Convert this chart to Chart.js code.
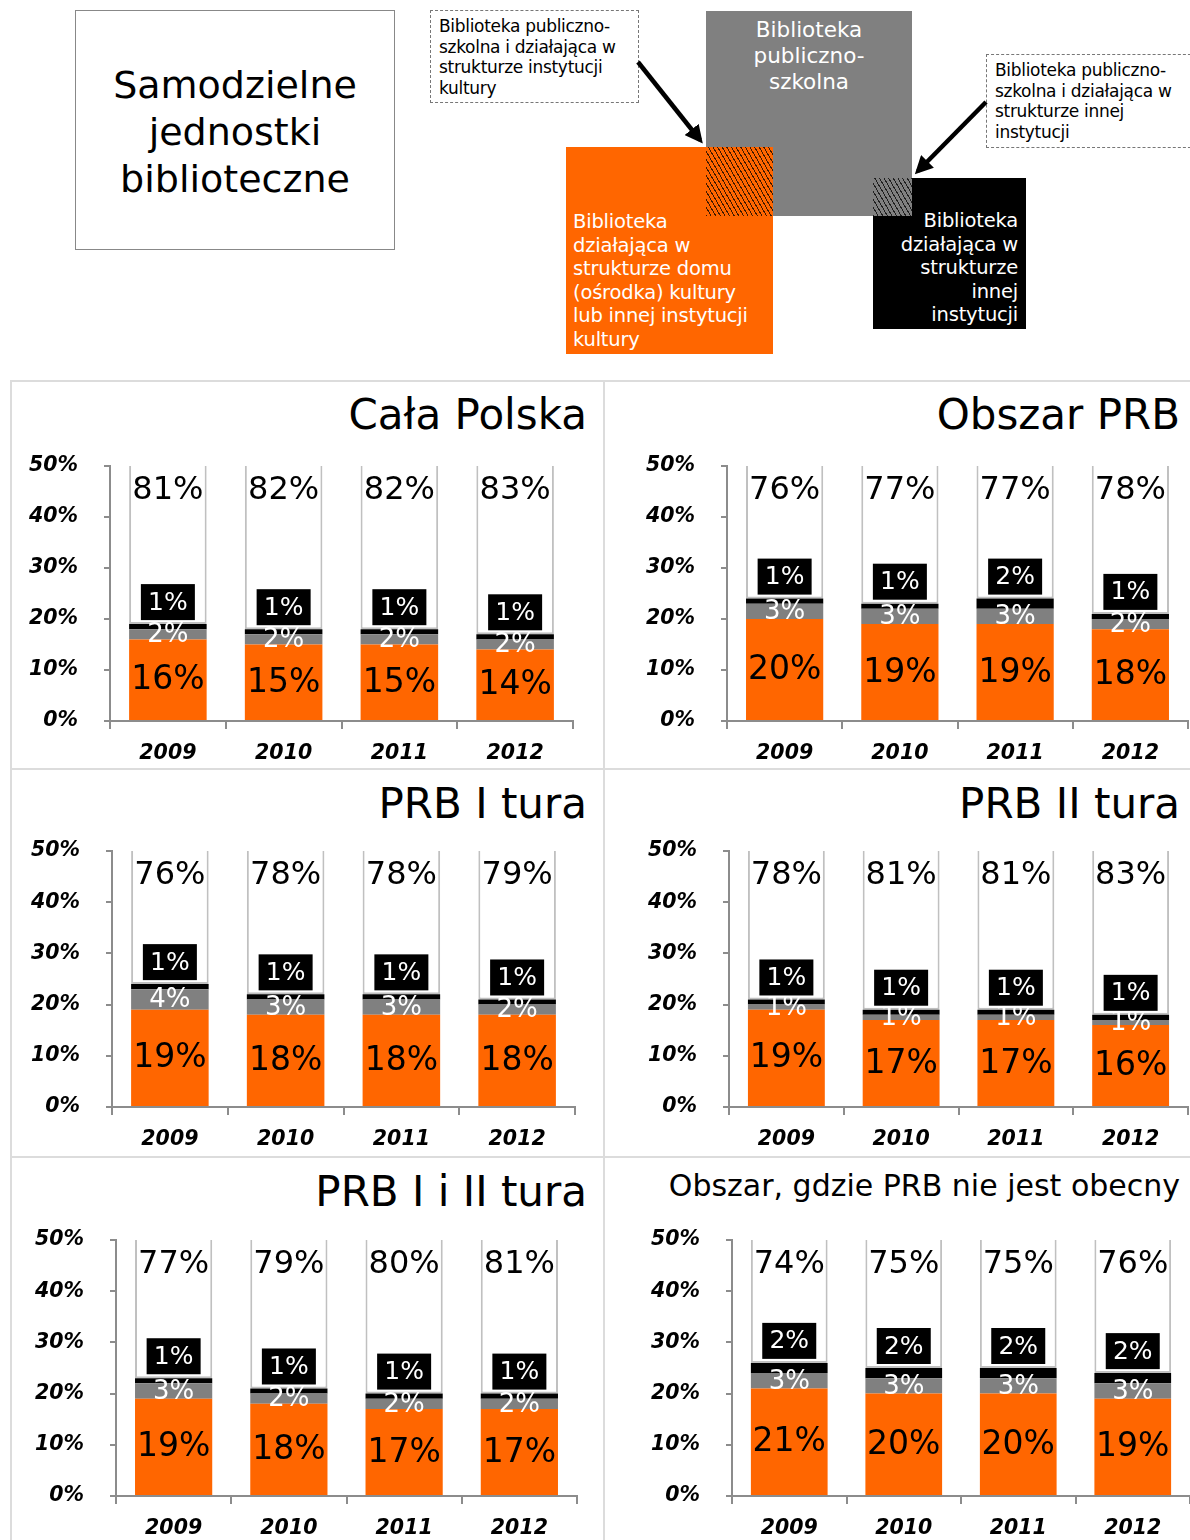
<!DOCTYPE html>
<html>
<head>
<meta charset="utf-8">
<script src="https://cdn.jsdelivr.net/npm/chart.js@4/dist/chart.umd.min.js"></script>
<style>
  body { margin: 0; width: 1190px; height: 1540px; position: relative; background: #fff; overflow: hidden;
         font-family: 'DejaVu Sans', Verdana, sans-serif; color: #000; }
  .abs { position: absolute; }
  .panel { position: absolute; border-left: 2px solid #dcdcdc; border-top: 2px solid #dcdcdc; box-sizing: border-box; }
  .ptitle { position: absolute; white-space: nowrap; text-align: right; }
  .callout { position: absolute; border: 1px dashed #777; box-sizing: border-box; font-size: 17px; line-height: 20.5px; padding: 5px 0 0 8px; letter-spacing: -0.3px; }
  .hatch { position: absolute; background-image: repeating-linear-gradient(60deg, rgba(0,0,0,0.75) 0 1px, transparent 1px 4px); }
  canvas { position: absolute; }
</style>
</head>
<body>

<!-- schemat u góry -->
<div class="abs" style="left:75px;top:10px;width:320px;height:240px;border:1px solid #888;box-sizing:border-box;
     display:flex;align-items:center;justify-content:center;text-align:center;font-size:38px;line-height:47px;padding-top:4px;">
  Samodzielne<br>jednostki<br>biblioteczne
</div>

<div class="abs" style="left:706px;top:11px;width:206px;height:205px;background:#808080;color:#fff;text-align:center;
     font-size:21.5px;line-height:26px;padding-top:6px;box-sizing:border-box;">Biblioteka<br>publiczno-<br>szkolna</div>

<div class="abs" style="left:566px;top:147px;width:207px;height:207px;background:#ff6600;color:#fff;
     font-size:19.5px;line-height:23.5px;padding:63px 0 0 7px;box-sizing:border-box;letter-spacing:-0.2px;">
  Biblioteka<br>działająca w<br>strukturze domu<br>(ośrodka) kultury<br>lub innej instytucji<br>kultury</div>
<div class="hatch" style="left:706px;top:147px;width:67px;height:69px;"></div>

<div class="abs" style="left:873px;top:178px;width:153px;height:151px;background:#000;color:#fff;text-align:right;
     font-size:19.5px;line-height:23.5px;padding:31px 8px 0 0;box-sizing:border-box;letter-spacing:-0.2px;">
  Biblioteka<br>działająca w<br>strukturze<br>innej<br>instytucji</div>
<div class="hatch" style="left:873px;top:178px;width:39px;height:38px;background-color:#808080;"></div>

<div class="callout" style="left:430px;top:10px;width:209px;height:93px;">Biblioteka publiczno-<br>szkolna i działająca w<br>strukturze instytucji<br>kultury</div>
<div class="callout" style="left:986px;top:54px;width:210px;height:94px;">Biblioteka publiczno-<br>szkolna i działająca w<br>strukturze innej<br>instytucji</div>

<svg class="abs" style="left:0;top:0" width="1190" height="370">
  <defs>
    <marker id="head" markerWidth="4" markerHeight="4" refX="3" refY="2" orient="auto">
      <path d="M0,0 L4,2 L0,4 z" fill="#000"/>
    </marker>
  </defs>
  <line x1="638" y1="62" x2="700" y2="140" stroke="#000" stroke-width="4.5" marker-end="url(#head)"/>
  <line x1="986" y1="102" x2="918" y2="171" stroke="#000" stroke-width="4.5" marker-end="url(#head)"/>
</svg>

<div id="panels"></div>

<script>
const years = ['2009', '2010', '2011', '2012'];

const panelTitles = ['Cała Polska', 'Obszar PRB', 'PRB I tura', 'PRB II tura', 'PRB I i II tura',
                     'Obszar, gdzie PRB nie jest obecny'];

// one row per panel, in the order of panelTitles
const domKulturyShare = [
  [16, 15, 15, 14],
  [20, 19, 19, 18],
  [19, 18, 18, 18],
  [19, 17, 17, 16],
  [19, 18, 17, 17],
  [21, 20, 20, 19]
];
const publSzkolnaKulturaShare = [
  [2, 2, 2, 2],
  [3, 3, 3, 2],
  [4, 3, 3, 2],
  [1, 1, 1, 1],
  [3, 2, 2, 2],
  [3, 3, 3, 3]
];
const innaInstytucjaShare = [
  [1, 1, 1, 1],
  [1, 1, 2, 1],
  [1, 1, 1, 1],
  [1, 1, 1, 1],
  [1, 1, 1, 1],
  [2, 2, 2, 2]
];
const samodzielneShare = [
  [81, 82, 82, 83],
  [76, 77, 77, 78],
  [76, 78, 78, 79],
  [78, 81, 81, 83],
  [77, 79, 80, 81],
  [74, 75, 75, 76]
];

const yMax = 50;
const yStep = 10;

// where each panel sits on the page (positions only)
const boxes = [
  { left: 10,  top: 380,  width: 593, height: 388, plotLeft: 100, plotRight: 563, plotTop: 86, plotBottom: 341, titleRight: 587,  titleY: 415,  titleSize: 42 },
  { left: 603, top: 380,  width: 587, height: 388, plotLeft: 124, plotRight: 585, plotTop: 86, plotBottom: 341, titleRight: 1180, titleY: 415,  titleSize: 42 },
  { left: 10,  top: 768,  width: 593, height: 388, plotLeft: 102, plotRight: 565, plotTop: 83, plotBottom: 339, titleRight: 587,  titleY: 804,  titleSize: 42 },
  { left: 603, top: 768,  width: 587, height: 388, plotLeft: 126, plotRight: 585, plotTop: 83, plotBottom: 339, titleRight: 1180, titleY: 804,  titleSize: 42 },
  { left: 10,  top: 1156, width: 593, height: 384, plotLeft: 106, plotRight: 567, plotTop: 84, plotBottom: 340, titleRight: 587,  titleY: 1192, titleSize: 42 },
  { left: 603, top: 1156, width: 587, height: 384, plotLeft: 129, plotRight: 587, plotTop: 84, plotBottom: 340, titleRight: 1180, titleY: 1186, titleSize: 30 }
];

const FONT = "'DejaVu Sans', Verdana, sans-serif";

// percent labels inside / above the segments
const segmentLabels = {
  id: 'segmentLabels',
  afterDatasetsDraw(chart) {
    const ctx = chart.ctx;
    const area = chart.chartArea;
    ctx.save();
    ctx.textAlign = 'center';
    ctx.textBaseline = 'middle';
    chart.data.datasets.forEach((ds, di) => {
      chart.getDatasetMeta(di).data.forEach((bar, i) => {
        const txt = ds.data[i] + '%';
        const p = bar.getProps(['x', 'y', 'base'], true);
        if (di === 0) {
          ctx.font = '33px ' + FONT;
          ctx.fillStyle = '#000';
          ctx.fillText(txt, p.x, (p.y + p.base) / 2 + 1);
        } else if (di === 1) {
          ctx.font = '26px ' + FONT;
          ctx.fillStyle = '#fff';
          ctx.fillText(txt, p.x, (p.y + p.base) / 2 + 1);
        } else if (di === 2) {
          const bw = 54, bh = 36;
          const top = p.y - 4 - bh;
          ctx.fillStyle = '#000';
          ctx.fillRect(p.x - bw / 2, top, bw, bh);
          ctx.font = '25px ' + FONT;
          ctx.fillStyle = '#fff';
          ctx.fillText(txt, p.x, top + bh / 2 + 1);
        } else {
          ctx.font = '32px ' + FONT;
          ctx.fillStyle = '#000';
          ctx.fillText(txt, p.x, area.top + 25);
        }
      });
    });
    ctx.restore();
  }
};

const holder = document.getElementById('panels');

boxes.forEach((b, k) => {
  const panel = document.createElement('div');
  panel.className = 'panel';
  panel.style.left = b.left + 'px';
  panel.style.top = b.top + 'px';
  panel.style.width = b.width + 'px';
  panel.style.height = b.height + 'px';
  holder.appendChild(panel);

  const title = document.createElement('div');
  title.className = 'ptitle';
  title.textContent = panelTitles[k];
  title.style.fontSize = b.titleSize + 'px';
  title.style.lineHeight = Math.round(b.titleSize * 1.2) + 'px';
  title.style.right = (1190 - b.titleRight) + 'px';
  title.style.top = (b.titleY - Math.round(b.titleSize * 0.6)) + 'px';
  holder.appendChild(title);

  const canvas = document.createElement('canvas');
  canvas.width = b.width;
  canvas.height = b.height;
  canvas.style.left = b.left + 'px';
  canvas.style.top = b.top + 'px';
  holder.appendChild(canvas);

  new Chart(canvas.getContext('2d'), {
    type: 'bar',
    data: {
      labels: years,
      datasets: [
        {
          label: 'Biblioteka działająca w strukturze domu (ośrodka) kultury',
          data: domKulturyShare[k],
          backgroundColor: '#ff6600',
          borderWidth: 0
        },
        {
          label: 'Biblioteka publiczno-szkolna i działająca w strukturze instytucji kultury',
          data: publSzkolnaKulturaShare[k],
          backgroundColor: '#808080',
          borderWidth: 0
        },
        {
          label: 'Biblioteka działająca w strukturze innej instytucji',
          data: innaInstytucjaShare[k],
          backgroundColor: '#000000',
          borderWidth: 0
        },
        {
          label: 'Samodzielne jednostki biblioteczne',
          data: samodzielneShare[k],
          backgroundColor: '#ffffff',
          borderColor: '#c0c0c0',
          borderWidth: { left: 2, right: 2, bottom: 2, top: 0 },
          borderSkipped: false
        }
      ]
    },
    options: {
      responsive: false,
      animation: false,
      layout: { padding: { left: 0, right: b.width - b.plotRight, top: b.plotTop, bottom: 0 } },
      datasets: { bar: { categoryPercentage: 1, barPercentage: 0.67, clip: 0 } },
      plugins: {
        legend: { display: false },
        tooltip: { enabled: false },
        title: { display: false }
      },
      scales: {
        x: {
          stacked: true,
          grid: { drawOnChartArea: false, drawTicks: true, tickLength: 8, color: '#8c8c8c', lineWidth: 2, offset: true },
          border: { color: '#8c8c8c', width: 2 },
          ticks: { color: '#000', padding: 12, font: { family: FONT, size: 20.5, weight: 'bold', style: 'italic' } },
          afterFit: s => { s.height = b.height - b.plotBottom; }
        },
        y: {
          stacked: true,
          min: 0,
          max: yMax,
          grid: { drawOnChartArea: false, drawTicks: true, tickLength: 6, color: '#8c8c8c', lineWidth: 2 },
          border: { color: '#8c8c8c', width: 2 },
          ticks: {
            stepSize: yStep,
            color: '#000',
            padding: 26,
            font: { family: FONT, size: 20.5, weight: 'bold', style: 'italic' },
            callback: v => v + '%'
          },
          afterFit: s => { s.width = b.plotLeft; }
        }
      }
    },
    plugins: [segmentLabels]
  });
});
</script>
</body>
</html>
